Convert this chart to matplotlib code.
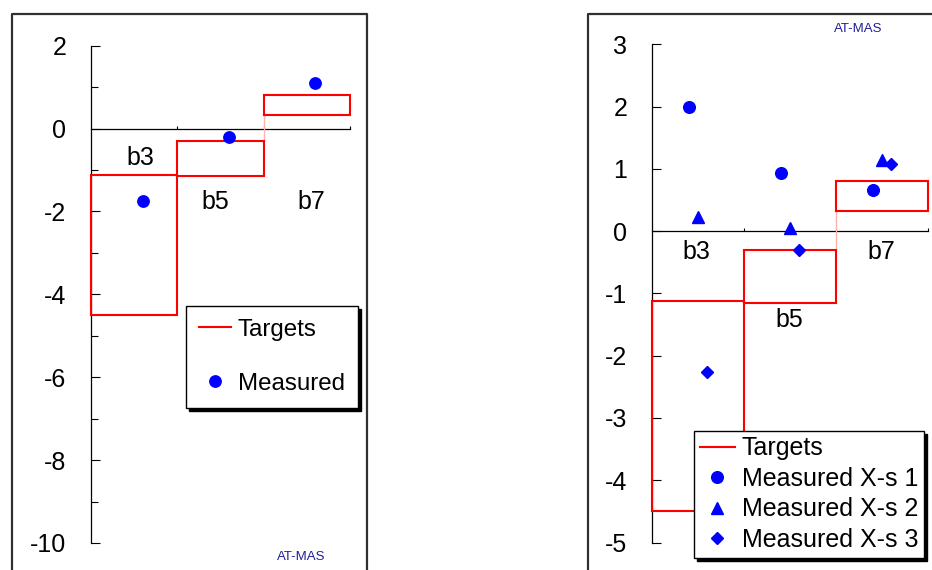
import matplotlib
matplotlib.use("Agg")
import matplotlib.pyplot as plt
from matplotlib.lines import Line2D

plt.rcParams['font.family'] = ['Liberation Sans', 'DejaVu Sans']

# ---------------- data ----------------
categories = ['b3', 'b5', 'b7']
target_low = [-4.5, -1.15, 0.32]
target_high = [-1.13, -0.31, 0.8]

measured_left = [-1.75, -0.2, 1.09]

measured_xs1 = [2.0, 0.93, 0.66]
measured_xs2 = [0.23, 0.05, 1.14]
measured_xs3 = [-2.27, -0.31, 1.07]

left_yticks = [-10, -8, -6, -4, -2, 0, 2]
right_yticks = [-5, -4, -3, -2, -1, 0, 1, 2, 3]

# ---------------- layout / style ----------------
W, H = 932, 570
FS = 18
FS_LEG_L = 17.4
RED = '#ff0000'
BLUE = '#0000ff'
NAVY = '#1f1f9a'

fig = plt.figure(figsize=(W / 100, H / 100), dpi=100)


def fx(px):
    return px / W


def fy(py):
    return 1 - py / H


# outer frames (extend past the figure edge as in the reference)
frame_kw = dict(color='#303030', lw=1.6, transform=fig.transFigure, clip_on=False)
fig.add_artist(Line2D([fx(12), fx(12), fx(367.3), fx(367.3)],
                      [-0.1, fy(14), fy(14), -0.1], **frame_kw))
fig.add_artist(Line2D([fx(588), fx(588), 1.1],
                      [-0.1, fy(14), fy(14)], **frame_kw))


def style_axis(ax, ylim, yticks, minor=None):
    ax.set_xlim(-0.5, 2.5)
    ax.set_ylim(*ylim)
    for s in ['top', 'right']:
        ax.spines[s].set_visible(False)
    ax.spines['bottom'].set_position(('data', 0))
    for s in ['left', 'bottom']:
        ax.spines[s].set_linewidth(0.9)
        ax.spines[s].set_color('black')
    ax.set_yticks(yticks)
    ax.set_yticklabels([str(t) for t in yticks])
    if minor is not None:
        ax.set_yticks(minor, minor=True)
    ax.tick_params(axis='y', which='major', direction='in', length=6.3, width=0.8,
                   pad=17.5, labelsize=FS)
    ax.tick_params(axis='y', which='minor', direction='in', length=5, width=0.8)
    ax.set_xticks([i + 0.5 for i in range(len(categories))])
    ax.tick_params(axis='x', direction='in', length=2.2, width=0.8, labelbottom=False)
    ax.patch.set_alpha(0)


def draw_targets(ax):
    n = len(categories)
    for i, (lo, hi) in enumerate(zip(target_low, target_high)):
        ax.plot([i - 0.5, i + 0.5, i + 0.5, i - 0.5, i - 0.5],
                [lo, lo, hi, hi, lo], color=RED, lw=1.5, zorder=3,
                solid_joinstyle='miter', clip_on=False)
    # faint connector between adjacent boxes that do not touch
    for i in range(n - 1):
        if target_high[i] < target_low[i + 1]:
            ax.plot([i + 0.5, i + 0.5], [target_high[i], target_low[i + 1]],
                    color='#ffb0b0', lw=1.0, zorder=2.8)


# ---------------- left chart ----------------
axL = fig.add_axes([fx(90.7), fy(543), fx(350) - fx(90.7), fy(45.7) - fy(543)])
style_axis(axL, (-10, 2), left_yticks, minor=[-9, -7, -5, -3, -1, 1])
draw_targets(axL)
xs = list(range(len(categories)))
axL.plot([x + 0.1 for x in xs], measured_left, 'o', color=BLUE, ms=8.2, mec=BLUE, zorder=4)

left_label_pos = [(0.07, -0.7), (0.939, -1.76), (2.058, -1.76)]
for cat, (x, y) in zip(categories, left_label_pos):
    axL.text(x, y, cat, fontsize=FS, ha='center', va='center')

hL = [Line2D([], [], color=RED, lw=1.5),
      Line2D([], [], ls='none', marker='o', color=BLUE, ms=8.2)]
legL = axL.legend(hL, ['Targets', 'Measured'], loc='upper left',
                  bbox_to_anchor=(fx(186), fy(305.5)), bbox_transform=fig.transFigure,
                  borderaxespad=0, fontsize=FS_LEG_L, frameon=True, fancybox=False,
                  shadow={'ox': 2.2, 'oy': -2.5, 'color': 'black', 'alpha': 1},
                  framealpha=1, edgecolor='black', borderpad=0.55, labelspacing=1.32,
                  handlelength=1.3, handletextpad=0.3, numpoints=1)
legL.get_frame().set_linewidth(1.0)
legL.set_zorder(10)

fig.text(fx(301.7), fy(556.7), 'AT-MAS', fontsize=9.5, color=NAVY, ha='center', va='center')

# ---------------- right chart ----------------
axR = fig.add_axes([fx(651.7), fy(542.5), fx(927.7) - fx(651.7), fy(44.3) - fy(542.5)])
style_axis(axR, (-5, 3), right_yticks)
draw_targets(axR)
axR.plot([x - 0.1 for x in xs], measured_xs1, 'o', color=BLUE, ms=8.4, zorder=4)
axR.plot([x for x in xs], measured_xs2, '^', color=BLUE, ms=8.9, zorder=4)
axR.plot([x + 0.1 for x in xs], measured_xs3, 'D', color=BLUE, ms=6.5, zorder=4)

right_label_pos = [(-0.011, -0.33), (0.992, -1.42), (2.0, -0.33)]
for cat, (x, y) in zip(categories, right_label_pos):
    axR.text(x, y, cat, fontsize=FS, ha='center', va='center')

hR = [Line2D([], [], color=RED, lw=1.5),
      Line2D([], [], ls='none', marker='o', color=BLUE, ms=8.4),
      Line2D([], [], ls='none', marker='^', color=BLUE, ms=8.9),
      Line2D([], [], ls='none', marker='D', color=BLUE, ms=6.5)]
legR = axR.legend(hR, ['Targets', 'Measured X-s 1', 'Measured X-s 2', 'Measured X-s 3'],
                  loc='upper left',
                  bbox_to_anchor=(fx(694.3), fy(430.5)), bbox_transform=fig.transFigure,
                  borderaxespad=0, fontsize=FS, frameon=True, fancybox=False,
                  shadow={'ox': 2.2, 'oy': -2.5, 'color': 'black', 'alpha': 1},
                  framealpha=1, edgecolor='black', borderpad=0.24, labelspacing=0.26,
                  handlelength=1.37, handletextpad=0.28, numpoints=1)
legR.get_frame().set_linewidth(1.0)
legR.set_zorder(10)

fig.text(fx(858.3), fy(29), 'AT-MAS', fontsize=9.5, color=NAVY, ha='center', va='center')

fig.savefig('out.png', dpi=100)
